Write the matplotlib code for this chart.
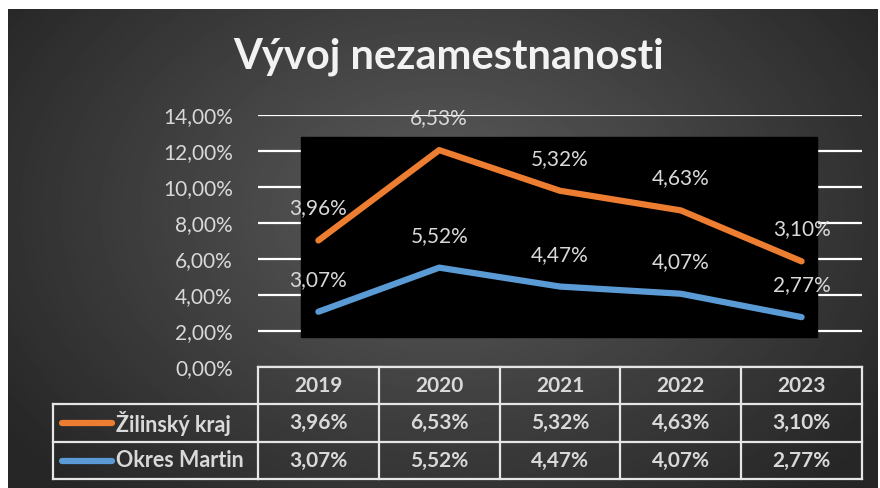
import numpy as np
import matplotlib.pyplot as plt
from matplotlib.patches import Rectangle
from matplotlib.lines import Line2D
from matplotlib import transforms

plt.rcParams['font.family'] = ['Lato', 'DejaVu Sans']

years = ['2019', '2020', '2021', '2022', '2023']
zilina = [3.96, 6.53, 5.32, 4.63, 3.10]
martin = [3.07, 5.52, 4.47, 4.07, 2.77]
names = ['Žilinský kraj', 'Okres Martin']
colors = ['#ED7D31', '#5B9BD5']

W, H = 880, 488
txt = '#d9d9d9'


def fx(px):
    return px / W


def fy(py):
    return 1 - py / H


def pct(v):
    return f'{v:.2f}%'.replace('.', ',')


fig = plt.figure(figsize=(8.8, 4.88), dpi=100)
fig.patch.set_facecolor('white')

# radial gray background
bg = fig.add_axes([fx(8), 0, fx(877) - fx(8), fy(9)])
yy, xx = np.mgrid[0:1:300j, 0:1:600j]
r = np.sqrt(((xx - 0.5) / 0.62) ** 2 + ((yy - 0.42) / 0.8) ** 2)
shade = 0.36 - 0.21 * np.clip(r, 0, 1)
bg.imshow(shade, cmap='gray', vmin=0, vmax=1, aspect='auto', extent=[0, 1, 0, 1])
bg.axis('off')

fig.text(fx(449), fy(57), 'Vývoj nezamestnanosti', ha='center', va='center',
         fontsize=30, fontweight='bold', color='#f2f2f2')

ax = fig.add_axes([fx(258), fy(367), fx(862) - fx(258), (367 - 115) / H])
ax.set_facecolor('none')
ax.set_xlim(-0.5, 4.5)
ax.set_ylim(0, 14)
ax.set_yticks(np.arange(0, 15, 2))
ax.set_yticklabels([pct(v) for v in np.arange(0, 15, 2)])
ax.tick_params(axis='y', length=0, pad=18, labelsize=15, labelcolor=txt)
ax.set_xticks([])
for s in ax.spines.values():
    s.set_visible(False)
ax.set_axisbelow(True)
ax.grid(axis='y', color='white', lw=1.6)

# black shape behind the lines
ax.add_patch(Rectangle((0.0712, 0.119), 0.8543, 0.794, transform=ax.transAxes,
                       color='black', zorder=1.5))

x = np.arange(len(years))
stacked = np.add(zilina, martin)
for vals, shown, c in [(stacked, zilina, colors[0]), (martin, martin, colors[1])]:
    ax.plot(x, vals, color=c, lw=4.5, solid_capstyle='round',
            solid_joinstyle='round', zorder=3)
    for xi, yv, lab in zip(x, vals, shown):
        ax.annotate(pct(lab), (xi, yv), xytext=(0, 23), textcoords='offset points',
                    ha='center', va='center', fontsize=15, color=txt, zorder=4,
                    annotation_clip=False)

# data table below the chart
bt = transforms.blended_transform_factory(ax.transData, fig.transFigure)
lc = '#e6e6e6'
lw = 1.6
rows = [367, 404, 442, 479]
edges = np.arange(len(years) + 1) - 0.5
for yp in rows:
    if yp != rows[0]:
        fig.add_artist(Line2D([fx(53), fx(258)], [fy(yp), fy(yp)], color=lc, lw=lw))
    ax.add_artist(Line2D([edges[0], edges[-1]], [fy(yp), fy(yp)], transform=bt,
                         color=lc, lw=lw, clip_on=False))
for e in edges:
    ax.add_artist(Line2D([e, e], [fy(rows[0]), fy(rows[-1])], transform=bt,
                         color=lc, lw=lw, clip_on=False))
fig.add_artist(Line2D([fx(53), fx(53)], [fy(rows[1]), fy(rows[-1])], color=lc, lw=lw))

for xi, yr in zip(x, years):
    ax.text(xi, fy((rows[0] + rows[1]) / 2), yr, transform=bt, ha='center',
            va='center', fontsize=15, fontweight='bold', color=txt)
for i, (name, vals, c) in enumerate(zip(names, [zilina, martin], colors)):
    yc = fy((rows[i + 1] + rows[i + 2]) / 2)
    fig.add_artist(Line2D([fx(62), fx(112)], [yc, yc], color=c, lw=4.5,
                          solid_capstyle='round'))
    fig.text(fx(116), yc, name, ha='left', va='center', fontsize=15.5,
             fontweight='bold', color=txt)
    for xi, v in zip(x, vals):
        ax.text(xi, yc, pct(v), transform=bt, ha='center', va='center',
                fontsize=15, fontweight='bold', color=txt)

fig.savefig('out.png', dpi=100, facecolor=fig.get_facecolor())
